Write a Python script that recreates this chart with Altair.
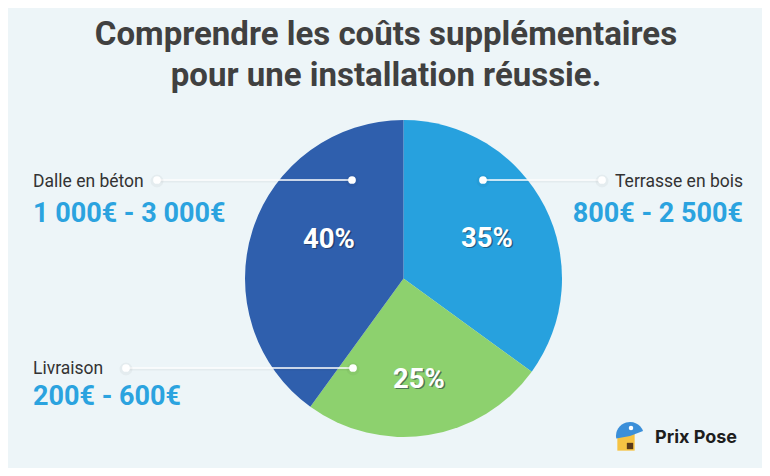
import altair as alt
import pandas as pd

# ---- data ----
categories = ["Terrasse en bois", "Livraison", "Dalle en béton"]
shares = [35, 25, 40]
price_ranges = ["800€ - 2 500€", "200€ - 600€", "1 000€ - 3 000€"]
slice_colors = ["#27A1DE", "#8DD16E", "#2F5FAD"]
title_lines = ["Comprendre les coûts supplémentaires", "pour une installation réussie."]
brand = "Prix Pose"

df = pd.DataFrame({
    "cat": categories,
    "pct": shares,
    "price": price_ranges,
    "idx": list(range(len(categories))),
})

# ---- layout (screen pixels, converted to chart coords by OFF) ----
OFF = 8
W, H = 754, 460
BG = "#EDF5F8"
FONT = "Roboto"
CX, CY, R = 403.5 - OFF, 278.5 - OFF, 158.5

label_layout = {
    # cat: (align, x, label_baseline, value_baseline, line_y, line_x1, line_x2, pct_x, pct_baseline)
    "Dalle en béton": ("left", 33, 187, 222, 180, 157, 352, 329, 248),
    "Terrasse en bois": ("right", 743, 187, 222, 180, 483, 602, 487, 247),
    "Livraison": ("left", 33, 374, 405, 368, 126, 353, 419, 388),
}

one = alt.Data(values=[{"k": 0}])
layers = []

# pie
pie = alt.Chart(df).mark_arc(outerRadius=R, strokeWidth=0).encode(
    theta=alt.Theta("pct:Q", stack=True),
    color=alt.Color("cat:N", scale=alt.Scale(domain=categories, range=slice_colors), legend=None),
    order=alt.Order("idx:Q"),
    x=alt.value(CX),
    y=alt.value(CY),
)
layers.append(pie)

# title
for i, line in enumerate(title_lines):
    layers.append(
        alt.Chart(one).mark_text(
            text=line, font=FONT, fontWeight="bold", fontSize=33, color="#404040",
            align="center", baseline="alphabetic",
        ).encode(x=alt.value(386 - OFF), y=alt.value([45, 86][i] - OFF))
    )

for cat in categories:
    align, tx, lb, vb, ly, lx1, lx2, px, pb = label_layout[cat]
    base = alt.Chart(df).transform_filter(alt.datum.cat == cat)
    # category name
    layers.append(base.mark_text(font=FONT, fontSize=17.5, color="#333333", align=align,
                                 baseline="alphabetic").encode(
        text="cat:N", x=alt.value(tx - OFF), y=alt.value(lb - OFF)))
    # price range
    layers.append(base.mark_text(font=FONT, fontSize=27, fontWeight="bold", color="#2BA3DF",
                                 align=align, baseline="alphabetic").encode(
        text="price:N", x=alt.value(tx - OFF), y=alt.value(vb - OFF)))
    # leader line shadow + line
    layers.append(base.mark_rule(color="#000000", opacity=0.04, strokeWidth=3).encode(
        x=alt.value(lx1 - OFF), x2=alt.value(lx2 - OFF), y=alt.value(ly + 1 - OFF)))
    layers.append(base.mark_rule(color="#FFFFFF", strokeWidth=1.5).encode(
        x=alt.value(lx1 - OFF), x2=alt.value(lx2 - OFF), y=alt.value(ly - OFF)))
    for dx in (lx1, lx2):
        layers.append(base.mark_circle(color="#000000", opacity=0.035, size=170).encode(
            x=alt.value(dx - OFF), y=alt.value(ly + 1 - OFF)))
        layers.append(base.mark_circle(color="#FFFFFF", opacity=1, size=60).encode(
            x=alt.value(dx - OFF), y=alt.value(ly - OFF)))
    # percentage label with shadow
    pct_base = base.transform_calculate(lbl="datum.pct + '%'")
    layers.append(pct_base.mark_text(font=FONT, fontSize=27.5, fontWeight="bold", color="#1a2a40",
                                     opacity=0.55, align="center", baseline="alphabetic").encode(
        text="lbl:N", x=alt.value(px + 1.3 - OFF), y=alt.value(pb + 1.3 - OFF)))
    layers.append(pct_base.mark_text(font=FONT, fontSize=27.5, fontWeight="bold", color="#FFFFFF",
                                     align="center", baseline="alphabetic").encode(
        text="lbl:N", x=alt.value(px - OFF), y=alt.value(pb - OFF)))

# brand logo (simple icon + text)
layers.append(alt.Chart(one).mark_square(color="#F6C343", size=300, opacity=1).encode(
    x=alt.value(626 - OFF), y=alt.value(442 - OFF)))
layers.append(alt.Chart(one).mark_square(color="#5A3A1A", size=40, opacity=1).encode(
    x=alt.value(630 - OFF), y=alt.value(446 - OFF)))
layers.append(alt.Chart(one).mark_arc(color="#3B8FD9", outerRadius=14,
                                      theta=4.53, theta2=7.48).encode(
    x=alt.value(630 - OFF), y=alt.value(436 - OFF)))
layers.append(alt.Chart(one).mark_circle(color="#FFFFFF", size=20, opacity=1).encode(
    x=alt.value(631 - OFF), y=alt.value(428 - OFF)))
layers.append(alt.Chart(one).mark_text(
    text=brand, font="Inter", fontWeight="bold", fontSize=18, color="#1E1E1E",
    align="left", baseline="alphabetic").encode(x=alt.value(655 - OFF), y=alt.value(443 - OFF)))

chart = alt.layer(*layers).properties(
    width=W, height=H,
    autosize=alt.AutoSizeParams(type="none"),
    padding=0,
    background=BG,
).configure_view(stroke=None)

chart.save("out.html", embed_options={"renderer": "svg", "actions": False})
